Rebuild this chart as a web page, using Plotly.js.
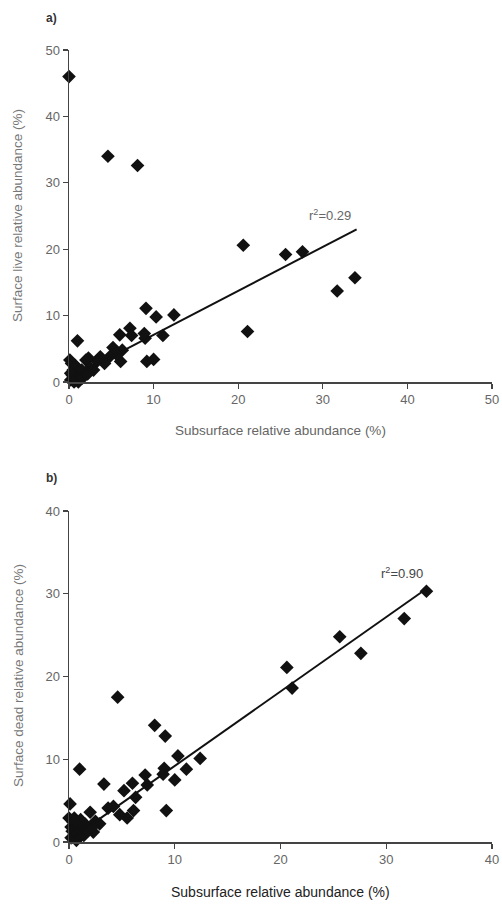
<!DOCTYPE html>
<html>
<head>
<meta charset="utf-8">
<script src="https://cdn.plot.ly/plotly-3.0.1.min.js"></script>
<style>html,body{margin:0;padding:0;background:#fff;}#chart{width:502px;height:905px;}</style>
</head>
<body>
<div id="chart"></div>
<script>
// Subsurface relative abundance (%) — shared x for both panels
const subsurface = [33.8, 31.7, 27.6, 25.6, 21.1, 20.6, 12.4, 11.1, 10.3, 10.0, 9.1, 9.2, 9.0, 8.9, 8.1,
  7.2, 7.4, 6.0, 6.1, 6.3, 4.6, 5.2, 5.5, 4.8, 4.2, 3.7, 3.3, 2.9, 2.3, 2.0, 2.5, 1.7, 1.0, 0.0, 0.1,
  0.2, 0.4, 0.5, 0.6, 0.7, 0.8, 0.9, 1.0, 1.1, 1.2, 1.3, 0.3, 0.5, 0.7, 0.9, 1.4, 1.5, 0.2, 0.6, 0.8, 1.6, 2.2];
// Surface live relative abundance (%)
const surfaceLive = [15.7, 13.7, 19.6, 19.2, 7.6, 20.6, 10.1, 7.0, 9.8, 3.4, 11.1, 3.1, 6.6, 7.3, 32.6,
  8.1, 7.0, 7.1, 3.1, 4.8, 34.0, 5.2, 4.3, 3.8, 2.8, 3.8, 3.1, 1.8, 3.6, 3.3, 2.1, 1.0, 6.2, 46.0, 3.3,
  0.3, 1.0, 1.8, 0.2, 2.5, 1.2, 0.6, 2.0, 0.0, 1.4, 0.8, 2.8, 0.5, 1.6, 2.3, 1.1, 1.8, 1.3, 0.0, 0.4, 0.6, 1.2];
// Surface dead relative abundance (%)
const surfaceDead = [30.3, 27.0, 22.8, 24.8, 18.6, 21.1, 10.1, 8.8, 10.4, 7.5, 12.8, 3.8, 8.9, 8.2, 14.1,
  8.1, 6.9, 7.1, 3.8, 5.4, 17.5, 6.2, 2.9, 3.3, 4.3, 4.1, 7.0, 2.2, 1.2, 3.6, 2.5, 1.5, 8.8, 2.9, 4.6,
  1.8, 2.4, 0.9, 1.5, 0.4, 2.1, 1.2, 0.6, 2.7, 1.0, 1.9, 1.3, 2.9, 0.2, 1.6, 0.8, 2.2, 0.5, 2.5, 1.0, 1.4, 1.8];
// Regression lines
const fitLiveX = [0.5, 34.0];
const fitLiveY = [0.8, 23.0];
const fitDeadX = [0.5, 33.8];
const fitDeadY = [0.65, 30.6];
const ticksA = [0, 10, 20, 30, 40, 50];
const ticksB = [0, 10, 20, 30, 40];

const W = 502, H = 905;
const px = v => v / W;
const py = v => (H - v) / H;

const mk = {symbol: 'diamond', size: 10.5, color: '#111', line: {width: 0}};
const traces = [
  {x: subsurface, y: surfaceLive, mode: 'markers', type: 'scatter', marker: mk, xaxis: 'x', yaxis: 'y', cliponaxis: false},
  {x: fitLiveX, y: fitLiveY, mode: 'lines', type: 'scatter', line: {color: '#111', width: 2}, xaxis: 'x', yaxis: 'y'},
  {x: subsurface, y: surfaceDead, mode: 'markers', type: 'scatter', marker: mk, xaxis: 'x2', yaxis: 'y2', cliponaxis: false},
  {x: fitDeadX, y: fitDeadY, mode: 'lines', type: 'scatter', line: {color: '#111', width: 2}, xaxis: 'x2', yaxis: 'y2'}
];

const axBase = {
  showgrid: false, zeroline: false, showline: true, linecolor: '#444', linewidth: 1.5,
  ticks: 'outside', ticklen: 5, tickwidth: 1.3, tickcolor: '#444',
  tickfont: {family: 'Liberation Sans, Arial, sans-serif', size: 13, color: '#666'},
  fixedrange: true
};

function ann(text, x, y, size, color, angle) {
  return {text: text, x: px(x), y: py(y), xref: 'paper', yref: 'paper', xanchor: 'center', yanchor: 'middle',
    showarrow: false, textangle: angle || 0, font: {size: size, color: color}};
}

const layout = {
  width: W, height: H,
  margin: {l: 0, r: 0, t: 0, b: 0},
  paper_bgcolor: '#fff', plot_bgcolor: 'rgba(0,0,0,0)',
  showlegend: false,
  font: {family: 'Liberation Sans, Arial, sans-serif'},
  xaxis: Object.assign({}, axBase, {domain: [px(69), px(492)], range: [0, 50], tickvals: ticksA, anchor: 'y'}),
  yaxis: Object.assign({}, axBase, {domain: [py(382), py(50)], range: [0, 50], tickvals: ticksA, anchor: 'x'}),
  xaxis2: Object.assign({}, axBase, {domain: [px(69), px(492)], range: [0, 40], tickvals: ticksB, anchor: 'y2'}),
  yaxis2: Object.assign({}, axBase, {domain: [py(842), py(511)], range: [0, 40], tickvals: ticksB, anchor: 'x2'}),
  annotations: [
    ann('<b>a)</b>', 51, 18, 12, '#333'),
    ann('<b>b)</b>', 51, 478, 12, '#333'),
    ann('Surface live relative abundance (%)', 18, 216, 13.5, '#777', -90),
    ann('Subsurface relative abundance (%)', 280, 430, 13.5, '#666'),
    ann('Surface dead relative abundance (%)', 18, 676, 13.5, '#777', -90),
    ann('Subsurface relative abundance (%)', 280, 892, 14, '#222'),
    ann('r<sup>2</sup>=0.29', 330, 215, 13, '#666'),
    ann('r<sup>2</sup>=0.90', 402, 573, 13, '#444')
  ]
};

Plotly.newPlot('chart', traces, layout, {displayModeBar: false, staticPlot: true});
</script>
</body>
</html>
